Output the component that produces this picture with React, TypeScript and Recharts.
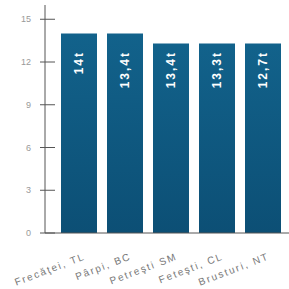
import { Bar, BarChart, LabelList, XAxis, YAxis } from "recharts";

const CITIES = ["Frecăţei, TL", "Pârpi, BC", "Petreşti SM", "Feteşti, CL", "Brusturi, NT"];
const TONS = [14, 14, 13.3, 13.3, 13.3];
const LABELS = ["14t", "13,4t", "13,4t", "13,3t", "12,7t"];
const Y_TICKS = [0, 3, 6, 9, 12, 15];

const data = CITIES.map((name, i) => ({ name, value: TONS[i], label: LABELS[i] }));

const FONT = "'Liberation Sans', Arial, sans-serif";

const YTick = (props: any) => {
    const { x, y, payload } = props;
    return (
        <g>
            <line x1={x + 3} x2={x + 18} y1={y} y2={y} stroke="#555" strokeWidth={1} />
            <text x={x - 6} y={y + 3} textAnchor="end" fontSize={9} fill="#999" fontFamily={FONT}>
                {payload.value}
            </text>
        </g>
    );
};

const XTick = (props: any) => {
    const { x, y, payload } = props;
    const tx = x + 7;
    const ty = y + 18;
    return (
        <text
            x={tx}
            y={ty}
            textAnchor="end"
            fontSize={10}
            letterSpacing={1.8}
            fill="#777"
            fontFamily={FONT}
            transform={`rotate(-21, ${tx}, ${ty})`}
        >
            {payload.value}
        </text>
    );
};

const BarLabel = (props: any) => {
    const { x, width, value } = props;
    const cx = x + width / 2 + 4;
    const top = 51;
    return (
        <text
            x={cx}
            y={top}
            textAnchor="end"
            fontSize={12}
            fontWeight="bold"
            letterSpacing={2}
            fill="#fff"
            fontFamily={FONT}
            transform={`rotate(-90, ${cx}, ${top})`}
        >
            {value}
        </text>
    );
};

export default function App() {
    return (
        <div style={{ position: "absolute", left: 0, top: 0, background: "#fff" }}>
            <BarChart width={289} height={289} data={data} margin={{ top: 5, right: 0, bottom: 0, left: 0 }} barSize={36}>
                <defs>
                    <linearGradient id="barFill" x1="0" y1="0" x2="0" y2="1">
                        <stop offset="0%" stopColor="#12628b" />
                        <stop offset="100%" stopColor="#0c4f75" />
                    </linearGradient>
                </defs>
                <XAxis
                    dataKey="name"
                    height={56}
                    padding={{ left: 11, right: 3 }}
                    axisLine={{ stroke: "#555" }}
                    tickLine={false}
                    interval={0}
                    tick={<XTick />}
                />
                <YAxis
                    width={45}
                    domain={[0, 16]}
                    ticks={Y_TICKS}
                    allowDataOverflow
                    axisLine={{ stroke: "#555" }}
                    tickLine={false}
                    tick={<YTick />}
                />
                <Bar dataKey="value" fill="url(#barFill)" isAnimationActive={false}>
                    <LabelList dataKey="label" content={<BarLabel />} />
                </Bar>
            </BarChart>
        </div>
    );
}
